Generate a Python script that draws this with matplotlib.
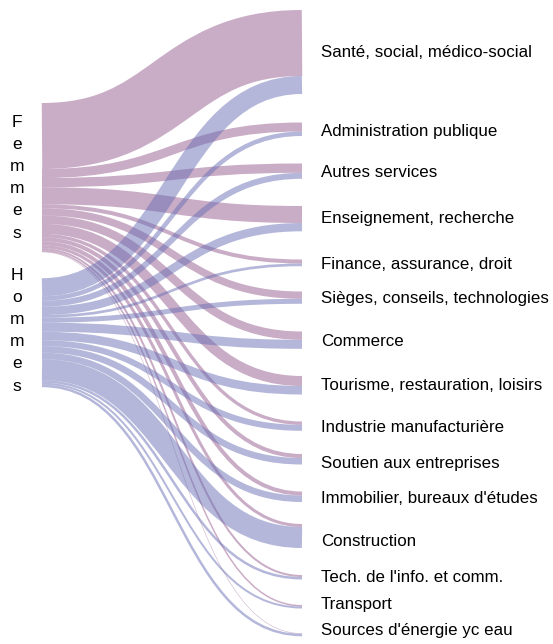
import matplotlib
matplotlib.use("Agg")
import matplotlib.pyplot as plt
from matplotlib.path import Path
from matplotlib.patches import PathPatch
import numpy as np

plt.rcParams['font.family'] = ['Liberation Sans', 'DejaVu Sans']

# data (same units on both sides)
sources = ["Femmes", "Hommes"]
sectors = ["Santé, social, médico-social", "Administration publique", "Autres services",
           "Enseignement, recherche", "Finance, assurance, droit", "Sièges, conseils, technologies",
           "Commerce", "Tourisme, restauration, loisirs", "Industrie manufacturière",
           "Soutien aux entreprises", "Immobilier, bureaux d'études", "Construction",
           "Tech. de l'info. et comm.", "Transport", "Sources d'énergie yc eau"]
femmes = [66, 9, 9.3, 17, 4, 7.3, 8.3, 10, 3.3, 4, 4, 3, 2, 1.5, 0.5]
hommes = [18, 4.5, 6, 8.3, 2.7, 5, 9, 8.5, 6, 6.5, 6.5, 21, 2.5, 2, 2.5]

colors = {"Femmes": "#955a8e", "Hommes": "#6a70b5"}

# layout (pixels): top of each sector node, label heights, top of left nodes
node_top = [10, 122.5, 163.5, 206, 259.5, 291.5, 331.5, 376, 421.5, 454, 491.5, 524, 575, 605, 633.3]
label_y = [52, 131, 172, 218, 264, 298, 341, 385, 427, 463, 498, 541, 577, 605, 631]
left_top, gap_l = 103, 26

W, H = 553, 644
fig = plt.figure(figsize=(W/100, H/100), dpi=100)
ax = fig.add_axes([0, 0, 1, 1])
ax.set_xlim(0, W)
ax.set_ylim(H, 0)
ax.axis("off")

x0, x1 = 42, 302
flows = {"Femmes": np.array(femmes), "Hommes": np.array(hommes)}

l_tops = {}
y = left_top
for s in sources:
    l_tops[s] = y
    y += flows[s].sum() + gap_l

def link(ys, yt, w, c):
    xm = (x0 + x1) / 2
    p = Path([(x0, ys), (xm, ys), (xm, yt), (x1, yt)],
             [Path.MOVETO, Path.CURVE4, Path.CURVE4, Path.CURVE4])
    ax.add_patch(PathPatch(p, facecolor="none", edgecolor=c, alpha=0.5,
                           lw=w * 0.72, capstyle="butt"))

r_off = np.array(node_top, dtype=float)
for s in sources:
    ys = l_tops[s]
    for i, v in enumerate(flows[s]):
        link(ys + v/2, r_off[i] + v/2, v, colors[s])
        ys += v
        r_off[i] += v

for i, name in enumerate(sectors):
    ax.text(321, label_y[i], name, fontsize=12.2, va="center", ha="left")

# vertical source labels
for s, y0 in [("Femmes", 122), ("Hommes", 275)]:
    for k, ch in enumerate(s):
        ax.text(17, y0 + 22.2*k, ch, fontsize=12.5, ha="center", va="center")

fig.savefig("out.png", dpi=100)
